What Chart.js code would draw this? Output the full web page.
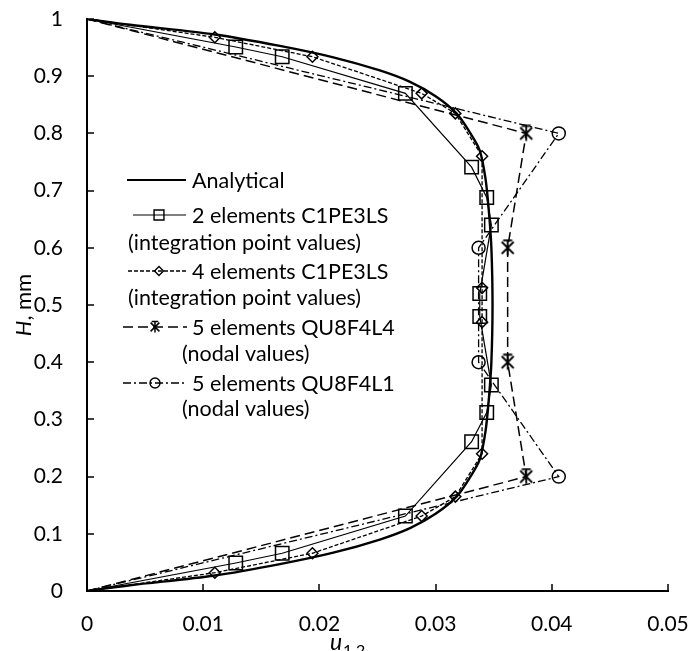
<!DOCTYPE html>
<html>
<head>
<meta charset="utf-8">
<script src="https://cdn.jsdelivr.net/npm/chart.js@4.4.1/dist/chart.umd.min.js"></script>
<style>
  html, body { margin: 0; padding: 0; background: #fff; }
</style>
</head>
<body>
<canvas id="profileChart" width="688" height="651"></canvas>
<script>
// tick labels
const xTickValues = [0, 0.01, 0.02, 0.03, 0.04, 0.05];
const yTickValues = [0, 0.1, 0.2, 0.3, 0.4, 0.5, 0.6, 0.7, 0.8, 0.9, 1];

// analytical profile (H, u)
const analyticalH = [0, 0.01, 0.027, 0.047, 0.067, 0.09, 0.11, 0.135, 0.165, 0.2, 0.23, 0.28, 0.34, 0.4, 0.5,
                     0.6, 0.66, 0.72, 0.77, 0.8, 0.835, 0.865, 0.89, 0.91, 0.933, 0.953, 0.973, 0.99, 1];
const analyticalU = [0, 0.0037, 0.011, 0.0166, 0.0212, 0.0252, 0.0278, 0.0300, 0.0318, 0.0330, 0.0338, 0.0343, 0.0346, 0.0348, 0.0349,
                     0.0348, 0.0346, 0.0343, 0.0338, 0.0330, 0.0318, 0.0300, 0.0278, 0.0252, 0.0212, 0.0166, 0.011, 0.0037, 0];

// 2 elements C1PE3LS, integration point values
const twoElH = [0, 0.049, 0.066, 0.131, 0.261, 0.312, 0.360, 0.480, 0.520, 0.640, 0.688, 0.741, 0.870, 0.934, 0.951, 1];
const twoElU = [0, 0.0128, 0.0168, 0.0274, 0.0331, 0.0344, 0.0348, 0.0338, 0.0338, 0.0348, 0.0344, 0.0331, 0.0274, 0.0168, 0.0128, 0];

// 4 elements C1PE3LS, integration point values
const fourElH = [0, 0.032, 0.066, 0.131, 0.165, 0.240, 0.470, 0.530, 0.760, 0.835, 0.870, 0.934, 0.968, 1];
const fourElU = [0, 0.0110, 0.0194, 0.0288, 0.0317, 0.0340, 0.0340, 0.0340, 0.0340, 0.0317, 0.0288, 0.0194, 0.0110, 0];

// 5 elements QU8F4L4, nodal values
const qu8l4H = [0, 0.2, 0.4, 0.6, 0.8, 1];
const qu8l4U = [0, 0.0378, 0.0362, 0.0362, 0.0378, 0];

// 5 elements QU8F4L1, nodal values
const qu8l1H = [0, 0.2, 0.4, 0.6, 0.8, 1];
const qu8l1U = [0, 0.0406, 0.0337, 0.0337, 0.0406, 0];

const legendText = [
    ['Analytical'],
    ['2 elements C1PE3LS', '(integration point values)'],
    ['4 elements C1PE3LS', '(integration point values)'],
    ['5 elements QU8F4L4', '(nodal values)'],
    ['5 elements QU8F4L1', '(nodal values)']
];

const FONT = 'Lato, "Open Sans", sans-serif';

function pairs(us, hs) {
    return us.map((u, i) => ({ x: u, y: hs[i] }));
}

function fmt(v) {
    return String(Number(v.toFixed(3)));
}

// asterisk marker drawn on a small canvas
function makeStar(size, lw) {
    const c = document.createElement('canvas');
    c.width = size; c.height = size;
    const g = c.getContext('2d');
    const m = size / 2, r = size / 2 - 1.5;
    g.strokeStyle = '#000';
    g.lineWidth = lw;
    g.beginPath();
    g.moveTo(m - r * 0.8, m - r * 0.8); g.lineTo(m + r * 0.8, m + r * 0.8);
    g.moveTo(m + r * 0.8, m - r * 0.8); g.lineTo(m - r * 0.8, m + r * 0.8);
    g.moveTo(m, m - r); g.lineTo(m, m + r);
    g.moveTo(m - r * 0.6, m - r); g.lineTo(m + r * 0.6, m - r);
    g.stroke();
    return c;
}
const starBig = makeStar(18, 1.8);
const starSmall = makeStar(14, 1.5);

const hideEnds = r => c => (c.raw && c.raw.x === 0) ? 0 : r;

const datasets = [
    {
        label: legendText[0][0],
        data: pairs(analyticalU, analyticalH),
        borderColor: '#000', borderWidth: 2.4,
        pointRadius: 0, tension: 0.3
    },
    {
        label: legendText[1][0],
        data: pairs(twoElU, twoElH),
        borderColor: '#000', borderWidth: 1.2,
        pointStyle: 'rect', pointRadius: hideEnds(9.5), pointBorderWidth: 1.5,
        pointBorderColor: '#000', pointBackgroundColor: 'rgba(0,0,0,0)',
        legendRadius: 7
    },
    {
        label: legendText[2][0],
        data: pairs(fourElU, fourElH),
        borderColor: '#000', borderWidth: 1.3, borderDash: [4, 2],
        pointStyle: 'rectRot', pointRadius: hideEnds(5.5), pointBorderWidth: 1.5,
        pointBorderColor: '#000', pointBackgroundColor: 'rgba(0,0,0,0)',
        legendRadius: 4.5
    },
    {
        label: legendText[3][0],
        data: pairs(qu8l4U, qu8l4H),
        borderColor: '#000', borderWidth: 1.5, borderDash: [10, 5],
        pointStyle: starBig, pointRadius: hideEnds(8),
        legendStyle: starSmall
    },
    {
        label: legendText[4][0],
        data: pairs(qu8l1U, qu8l1H),
        borderColor: '#000', borderWidth: 1.3, borderDash: [8, 3, 2, 3],
        pointStyle: 'circle', pointRadius: hideEnds(6.5), pointBorderWidth: 1.5,
        pointBorderColor: '#000', pointBackgroundColor: 'rgba(0,0,0,0)',
        legendRadius: 5
    }
];

// legend rows: y of first line, sample start / end, marker x, second-line x
const legendRows = [
    { y: 180, x0: 127, x1: 186 },
    { y: 215, x0: 133, x1: 186, mx: 159, y2: 242, tx2: 128 },
    { y: 271, x0: 128, x1: 186, mx: 159, y2: 297, tx2: 128 },
    { y: 327, x0: 123, x1: 187, mx: 155, y2: 353, tx2: 182 },
    { y: 383, x0: 123, x1: 187, mx: 155, y2: 408, tx2: 182 }
];

const extras = {
    id: 'extras',
    afterDraw(chart) {
        const { ctx, chartArea: a, scales: { x, y } } = chart;
        ctx.save();

        // inner tick marks
        ctx.strokeStyle = '#000';
        ctx.lineWidth = 1.5;
        ctx.beginPath();
        xTickValues.forEach(v => {
            const px = Math.round(x.getPixelForValue(v));
            ctx.moveTo(px, a.bottom); ctx.lineTo(px, a.bottom - 7);
        });
        yTickValues.forEach(v => {
            const py = Math.round(y.getPixelForValue(v));
            ctx.moveTo(a.left, py); ctx.lineTo(a.left + 7, py);
        });
        ctx.stroke();

        // axis titles
        ctx.fillStyle = '#000';
        ctx.textBaseline = 'alphabetic';
        ctx.save();
        ctx.translate(31, 305);
        ctx.rotate(-Math.PI / 2);
        ctx.font = 'italic 22px ' + FONT;
        const hw = ctx.measureText('H').width;
        ctx.font = '22px ' + FONT;
        const rw = ctx.measureText(', mm').width;
        const sx = -(hw + rw) / 2;
        ctx.font = 'italic 22px ' + FONT;
        ctx.textAlign = 'left';
        ctx.fillText('H', sx, 0);
        ctx.font = '22px ' + FONT;
        ctx.fillText(', mm', sx + hw, 0);
        ctx.restore();

        ctx.textAlign = 'left';
        ctx.font = 'italic 23px ' + FONT;
        ctx.fillText('u', 330, 650);
        ctx.font = '16px ' + FONT;
        ctx.fillText('1,2', 343, 656);

        // legend
        ctx.font = '21.5px ' + FONT;
        ctx.textBaseline = 'middle';
        chart.data.datasets.forEach((ds, i) => {
            const row = legendRows[i];
            ctx.strokeStyle = '#000';
            ctx.lineWidth = Math.min(ds.borderWidth, 1.8);
            ctx.setLineDash(ds.borderDash || []);
            ctx.beginPath();
            ctx.moveTo(row.x0, row.y); ctx.lineTo(row.x1, row.y);
            ctx.stroke();
            ctx.setLineDash([]);
            if (row.mx) {
                ctx.fillStyle = 'rgba(0,0,0,0)';
                ctx.lineWidth = 1.4;
                Chart.helpers.drawPoint(ctx, {
                    pointStyle: ds.legendStyle || ds.pointStyle,
                    radius: ds.legendRadius || 6,
                    rotation: 0,
                    borderWidth: 1.4
                }, row.mx, row.y);
            }
            ctx.fillStyle = '#000';
            const lines = legendText[i];
            ctx.fillText(lines[0], 192, row.y + 1);
            if (lines[1]) ctx.fillText(lines[1], row.tx2, row.y2 + 1);
        });

        ctx.restore();
    }
};

new Chart(document.getElementById('profileChart'), {
    type: 'scatter',
    data: { datasets: datasets.map(d => Object.assign({ showLine: true, fill: false }, d)) },
    options: {
        responsive: false,
        animation: false,
        events: [],
        layout: { padding: { top: 19, right: 20, left: 0, bottom: 0 } },
        plugins: {
            legend: { display: false },
            tooltip: { enabled: false },
            extras: {}
        },
        scales: {
            x: {
                type: 'linear',
                min: 0,
                max: 0.05,
                afterFit: s => { s.height = 60; s.paddingLeft = 0; s.paddingRight = 0; },
                afterBuildTicks: s => { s.ticks = xTickValues.map(v => ({ value: v })); },
                border: { display: true, color: '#000', width: 2 },
                grid: { display: false },
                ticks: {
                    color: '#000',
                    padding: 13,
                    maxRotation: 0,
                    font: { family: FONT, size: 21 },
                    callback: v => fmt(v)
                }
            },
            y: {
                type: 'linear',
                min: 0,
                max: 1,
                afterFit: s => { s.width = 87; s.paddingTop = 0; s.paddingBottom = 0; },
                afterBuildTicks: s => { s.ticks = yTickValues.map(v => ({ value: v })); },
                border: { display: true, color: '#000', width: 2 },
                grid: { display: false },
                ticks: {
                    color: '#000',
                    padding: 16,
                    font: { family: FONT, size: 21 },
                    callback: v => fmt(v)
                }
            }
        }
    },
    plugins: [extras]
});
</script>
</body>
</html>
